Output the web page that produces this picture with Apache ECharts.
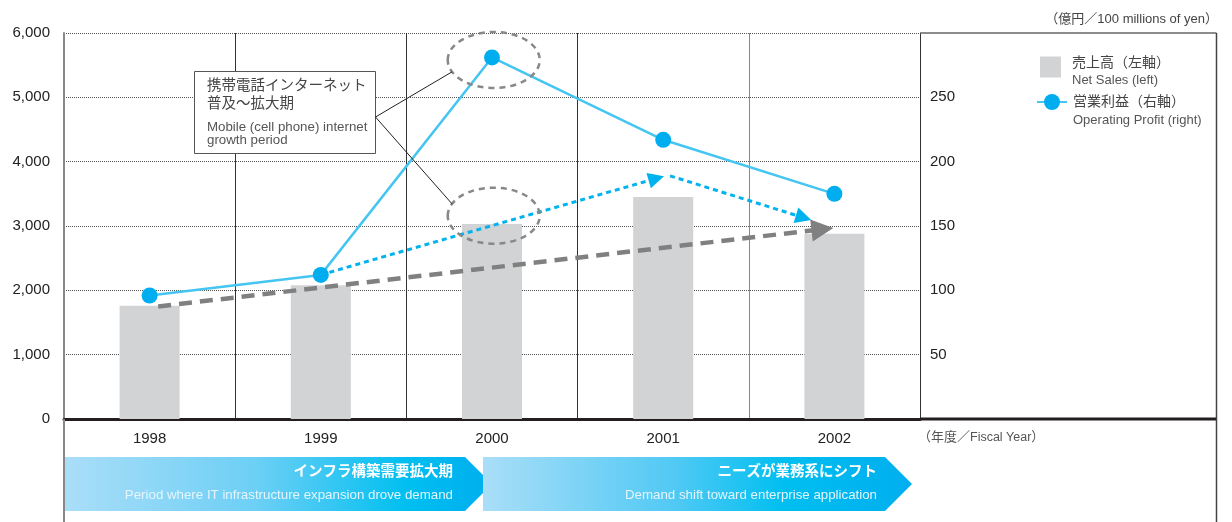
<!DOCTYPE html>
<html lang="ja">
<head>
<meta charset="UTF-8">
<title>売上高・営業利益の推移</title>
<style>
  html, body { margin: 0; padding: 0; background: #fff; }
</style>
</head>
<body>
<div id="main" style="width: 1232px;height:522px;"></div>
<script src="https://cdn.jsdelivr.net/npm/echarts@6/dist/echarts.min.js"></script>
<script>
// データ
var years = ['1998', '1999', '2000', '2001', '2002'];
var netSales = [1760, 2080, 3030, 3450, 2880];          // 億円（左軸）
var operatingProfit = [96, 112, 281, 217, 175];         // 億円（右軸）
var salesTicks = [0, 1000, 2000, 3000, 4000, 5000, 6000];
var profitTicks = [50, 100, 150, 200, 250];

// 矢印（x は年のインデックス）
var salesTrend = [[0.05, 1750], [3.93, 2950]];
var profitTrendUp = [[1.05, 114], [2.96, 187]];
var profitTrendDown = [[3.04, 189], [3.82, 156.5]];
// 点線の楕円（右軸の値）
var ringCentres = [[2.01, 279], [2.01, 158]];

var FONT = "'Liberation Sans', 'Noto Sans CJK JP', sans-serif";
var NARROW = "'Liberation Sans Narrow', 'Liberation Sans', 'Noto Sans CJK JP', sans-serif";

var chart = echarts.init(document.getElementById('main'));

function arrowSeries(name, yIdx, pts, color, width, dash, head) {
  return {
    name: name,
    type: 'line',
    xAxisIndex: 1,
    yAxisIndex: yIdx,
    data: [],
    silent: true,
    z: 4,
    markLine: {
      silent: true,
      animation: false,
      symbol: ['none', 'triangle'],
      symbolSize: head,
      label: { show: false },
      lineStyle: { color: color, width: width, type: dash, opacity: 1 },
      emphasis: { disabled: true },
      data: [[{ coord: pts[0] }, { coord: pts[1] }]]
    }
  };
}

var option = {
  animation: false,
  textStyle: { fontFamily: FONT },
  title: {
    right: 9,
    top: 8,
    text: '{a|（億円／}{b|100 millions of yen}{a|）}',
    textStyle: {
      fontWeight: 'normal',
      rich: {
        a: { fontFamily: FONT, fontSize: 13, color: '#444', fontWeight: 'normal' },
        b: { fontFamily: FONT, fontSize: 13, color: '#444', fontWeight: 'normal' }
      }
    }
  },
  legend: [{
    data: [{ name: '売上高', icon: 'rect' }],
    left: 1040,
    top: 56,
    padding: 0,
    itemWidth: 21,
    itemHeight: 21,
    selectedMode: false,
    formatter: function () { return '{a|売上高（左軸）}\n{b|Net Sales (left)}'; },
    textStyle: {
      padding: [8, 0, 0, 6],
      rich: {
        a: { fontFamily: FONT, fontSize: 14, color: '#444', lineHeight: 18 },
        b: { fontFamily: FONT, fontSize: 13, color: '#555', lineHeight: 16 }
      }
    }
  }, {
    data: ['営業利益'],
    left: 1036,
    top: 94,
    padding: 0,
    itemWidth: 30,
    itemHeight: 20,
    selectedMode: false,
    formatter: function () { return '{a|営業利益（右軸）}\n{b|Operating Profit (right)}'; },
    textStyle: {
      padding: [18, 0, 0, 1],
      rich: {
        a: { fontFamily: FONT, fontSize: 14, color: '#444', lineHeight: 18 },
        b: { fontFamily: FONT, fontSize: 13, color: '#555', lineHeight: 17 }
      }
    }
  }],
  grid: { left: 64, right: 312, top: 33, bottom: 103 },
  xAxis: [{
    type: 'category',
    data: years,
    axisLine: { onZero: false, lineStyle: { color: '#231f20', width: 3 } },
    axisTick: { show: false },
    axisLabel: { fontSize: 15, color: '#222', margin: 12 },
    splitLine: {
      show: true,
      interval: 0,
      lineStyle: { color: ['#888', '#333', '#333', '#333', '#888', '#333'], width: 1 }
    },
    name: '{a|（年度／}{b|Fiscal Year}{a|）}',
    nameLocation: 'end',
    nameGap: -2,
    nameTextStyle: {
      verticalAlign: 'top',
      align: 'left',
      padding: [12, 0, 0, 0],
      rich: {
        a: { fontFamily: FONT, fontSize: 13, color: '#555' },
        b: { fontFamily: NARROW, fontSize: 12.5, color: '#555' }
      }
    }
  }, {
    type: 'value',
    min: -0.5,
    max: 4.5,
    show: false,
    axisLine: { show: false, onZero: false },
    splitLine: { show: false },
    axisLabel: { show: false },
    axisTick: { show: false }
  }],
  yAxis: [{
    type: 'value',
    min: 0,
    max: 6000,
    interval: 1000,
    axisLine: { show: true, onZero: false, lineStyle: { color: '#888', width: 2 } },
    axisTick: { show: false },
    axisLabel: {
      fontSize: 15,
      color: '#222',
      margin: 14,
      formatter: function (v) { return salesTicks.indexOf(v) >= 0 ? echarts.format.addCommas(v) : ''; }
    },
    splitLine: { show: true, lineStyle: { color: '#555', type: 'dotted', width: 1 } }
  }, {
    type: 'value',
    min: 0,
    max: 300,
    interval: 50,
    position: 'right',
    axisLine: { show: false, onZero: false },
    axisTick: { show: false },
    splitLine: { show: false },
    axisLabel: {
      fontSize: 15,
      color: '#222',
      margin: 10,
      formatter: function (v) { return profitTicks.indexOf(v) >= 0 ? String(v) : ''; }
    }
  }],
  series: [{
    name: '売上高',
    type: 'bar',
    data: netSales,
    barWidth: 60,
    itemStyle: { color: '#d1d3d4' },
    z: 2
  },
  arrowSeries('salesTrend', 0, salesTrend, '#808080', 4.5, [13, 8], 22),
  arrowSeries('profitUp', 1, profitTrendUp, '#00b2ee', 3, [5, 4], 16),
  arrowSeries('profitDown', 1, profitTrendDown, '#00b2ee', 3, [5, 4], 16),
  {
    name: '営業利益',
    type: 'line',
    yAxisIndex: 1,
    data: operatingProfit,
    symbol: 'circle',
    symbolSize: 16,
    lineStyle: { color: '#45c5f1', width: 2.5 },
    itemStyle: { color: '#00aeef' },
    z: 6
  }]
};

chart.setOption(option);

// 注記・帯（ピクセル位置はレイアウト）
function bandArrow(x0, x1, tip, grad, jp, en, textRight) {
  return {
    type: 'group',
    children: [{
      type: 'polygon',
      shape: { points: [[x0, 457], [x1, 457], [tip, 484], [x1, 511], [x0, 511]] },
      style: {
        fill: new echarts.graphic.LinearGradient(0, 0, 1, 0, grad)
      }
    }, {
      type: 'text',
      style: {
        x: textRight, y: 472, text: jp, align: 'right', verticalAlign: 'middle',
        fill: '#fff', fontFamily: FONT, fontSize: 14.5, fontWeight: 'bold'
      }
    }, {
      type: 'text',
      style: {
        x: textRight, y: 495, text: en, align: 'right', verticalAlign: 'middle',
        fill: '#e4f5fd', fontFamily: NARROW, fontSize: 13.3
      }
    }]
  };
}

var c1 = chart.convertToPixel({ xAxisIndex: 1, yAxisIndex: 1 }, ringCentres[0]);
var c2 = chart.convertToPixel({ xAxisIndex: 1, yAxisIndex: 1 }, ringCentres[1]);
var RX = 46, RY = 28;
var ang = 25 * Math.PI / 180;
var boxRight = 375.5, boxMid = 117;

var ringStyle = { fill: 'none', stroke: '#888', lineWidth: 2.5, lineDash: [6, 5] };

chart.setOption({
  graphic: [
    // 外枠
    { type: 'line', shape: { x1: 920, y1: 33, x2: 1216.5, y2: 33 }, style: { stroke: '#666', lineWidth: 1.5 }, z: 1 },
    { type: 'line', shape: { x1: 1216.5, y1: 33, x2: 1216.5, y2: 522 }, style: { stroke: '#444', lineWidth: 1.5 }, z: 1 },
    { type: 'line', shape: { x1: 920, y1: 419, x2: 1216, y2: 419 }, style: { stroke: '#231f20', lineWidth: 3 }, z: 1 },
    { type: 'line', shape: { x1: 64, y1: 419, x2: 64, y2: 522 }, style: { stroke: '#888', lineWidth: 2 }, z: 1 },
    // 楕円
    { type: 'ellipse', shape: { cx: c1[0], cy: c1[1], rx: RX, ry: RY }, style: ringStyle, z: 10 },
    { type: 'ellipse', shape: { cx: c2[0], cy: c2[1], rx: RX, ry: RY }, style: ringStyle, z: 10 },
    // 引き出し線
    { type: 'line', shape: { x1: boxRight, y1: boxMid, x2: c1[0] - RX * Math.cos(ang), y2: c1[1] + RY * Math.sin(ang) },
      style: { stroke: '#231f20', lineWidth: 1 }, z: 10 },
    { type: 'line', shape: { x1: boxRight, y1: boxMid, x2: c2[0] - RX * Math.cos(ang), y2: c2[1] - RY * Math.sin(ang) },
      style: { stroke: '#231f20', lineWidth: 1 }, z: 10 },
    // 注記ボックス
    {
      type: 'group',
      z: 11,
      children: [{
        type: 'rect',
        shape: { x: 194.5, y: 71.5, width: 181, height: 82 },
        style: { fill: '#fff', stroke: '#555', lineWidth: 1 }
      }, {
        type: 'text',
        style: { x: 207, y: 86, text: '携帯電話インターネット', verticalAlign: 'middle', fill: '#444', fontFamily: FONT, fontSize: 14.5 }
      }, {
        type: 'text',
        style: { x: 207, y: 104, text: '普及〜拡大期', verticalAlign: 'middle', fill: '#444', fontFamily: FONT, fontSize: 14.5 }
      }, {
        type: 'text',
        style: { x: 207, y: 127, text: 'Mobile (cell phone) internet', verticalAlign: 'middle', fill: '#555', fontFamily: FONT, fontSize: 13.3 }
      }, {
        type: 'text',
        style: { x: 207, y: 140, text: 'growth period', verticalAlign: 'middle', fill: '#555', fontFamily: FONT, fontSize: 13.3 }
      }]
    },
    // 下部の帯
    bandArrow(65, 465, 492, [
      { offset: 0, color: '#aadef8' }, { offset: 0.45, color: '#6ccff5' },
      { offset: 0.8, color: '#00bff0' }, { offset: 1, color: '#00aeef' }
    ], 'インフラ構築需要拡大期', 'Period where IT infrastructure expansion drove demand', 453),
    bandArrow(483, 885, 912, [
      { offset: 0, color: '#aadef8' }, { offset: 0.45, color: '#50c9f4' },
      { offset: 0.7, color: '#00bff0' }, { offset: 1, color: '#00aeef' }
    ], 'ニーズが業務系にシフト', 'Demand shift toward enterprise application', 877)
  ]
});
</script>
</body>
</html>
